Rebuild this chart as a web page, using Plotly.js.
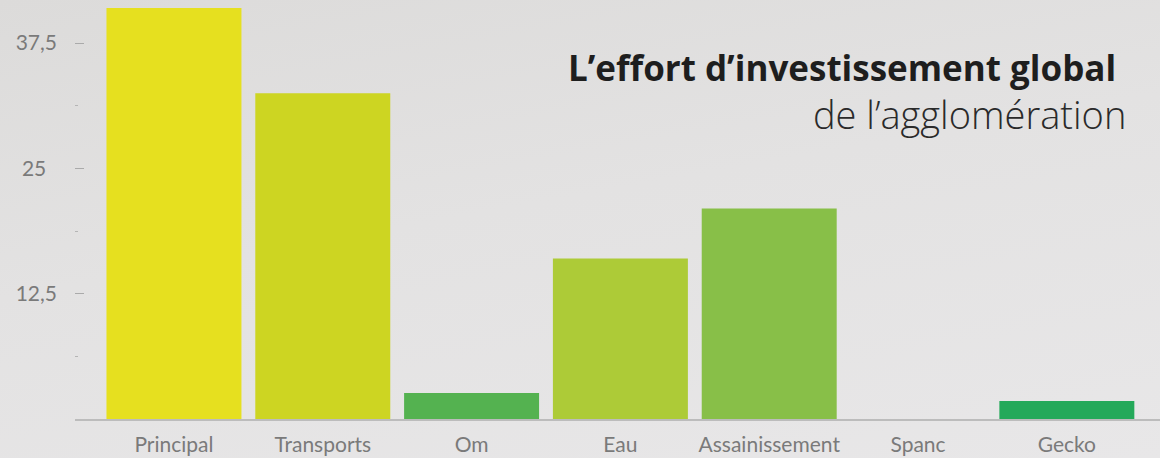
<!DOCTYPE html>
<html>
<head>
<meta charset="utf-8">
<script src="https://cdn.plot.ly/plotly-3.0.1.min.js"></script>
<style>
  html, body { margin: 0; padding: 0; }
  body { width: 1160px; height: 458px; background: linear-gradient(170deg, #dcdbda 0%, #e3e2e2 45%, #e8e7e8 100%); }
  #chart { width: 1160px; height: 458px; }
</style>
</head>
<body>
<div id="chart"></div>
<script>
// Data
const categories = ["Principal", "Transports", "Om", "Eau", "Assainissement", "Spanc", "Gecko"];
const values = [41.0, 32.5, 2.6, 16.0, 21.0, 0, 1.8];
const barColors = ["#e6e01f", "#cdd522", "#54b250", "#adcb37", "#88bf48", "#24a95a", "#24a95a"];
const yTickVals = [12.5, 25, 37.5];
const yTickText = ["12,5", "\u00a0\u00a025\u00a0\u00a0", "37,5"];
const titleLine1 = "L\u2019effort d\u2019investissement global";
const titleLine2 = "de l\u2019agglomération";

const FONT = "Lato, 'Open Sans', sans-serif";
const TFONT = "'Open Sans', Lato, sans-serif";

const trace = {
  type: "bar",
  x: categories,
  y: values,
  marker: { color: barColors, line: { width: 0 } },
  hoverinfo: "x+y"
};

const layout = {
  width: 1160,
  height: 458,
  margin: { l: 75, r: 0, t: 0, b: 39, pad: 0 },
  paper_bgcolor: "rgba(0,0,0,0)",
  plot_bgcolor: "rgba(0,0,0,0)",
  bargap: 0.093,
  showlegend: false,
  font: { family: FONT, color: "#777777" },
  xaxis: {
    type: "category",
    range: [-0.665, 6.626],
    showgrid: false,
    zeroline: false,
    showline: true,
    linecolor: "#bcbcbc",
    linewidth: 2,
    ticks: "",
    tickfont: { family: FONT, size: 21, color: "#7a7a7a" },
    ticklabelstandoff: 6,
    fixedrange: true
  },
  yaxis: {
    range: [0, 41.8],
    showgrid: false,
    zeroline: false,
    showline: false,
    tickmode: "array",
    tickvals: yTickVals,
    ticktext: yTickText,
    ticks: "inside",
    ticklen: 9,
    tickwidth: 1,
    tickcolor: "#aaaaaa",
    tickfont: { family: FONT, size: 21, color: "#7a7a7a" },
    ticklabelstandoff: 17,
    minor: {
      tickmode: "array",
      tickvals: [6.25, 18.75, 31.25],
      ticks: "inside",
      ticklen: 3,
      tickwidth: 1,
      tickcolor: "#b5b5b5",
      showgrid: false
    },
    fixedrange: true
  },
  annotations: [
    {
      text: "<b>" + titleLine1 + "</b>",
      xref: "paper", yref: "paper",
      x: 0.961, y: 0.838,
      xanchor: "right", yanchor: "middle",
      showarrow: false,
      font: { family: TFONT, size: 35, color: "#1e1e1e" }
    },
    {
      text: titleLine2,
      xref: "paper", yref: "paper",
      x: 0.9705, y: 0.728,
      xanchor: "right", yanchor: "middle",
      showarrow: false,
      font: { family: TFONT, size: 38, color: "#2a2a2a", weight: 300 }
    }
  ]
};

Plotly.newPlot("chart", [trace], layout, { displayModeBar: false, staticPlot: true });
</script>
</body>
</html>
